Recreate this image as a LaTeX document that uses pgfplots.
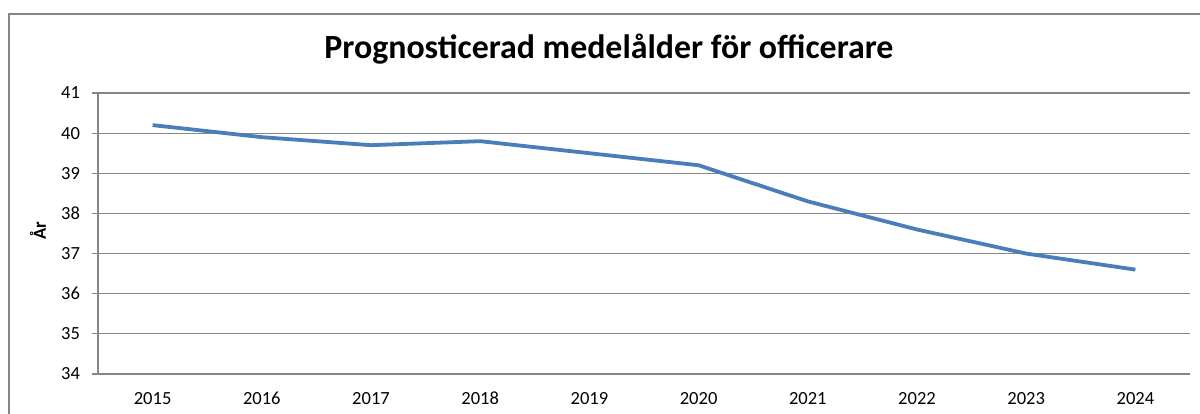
\documentclass[border=0pt]{standalone}
\usepackage{fontspec}
\setmainfont{Carlito}
\usepackage{pgfplots}
\pgfplotsset{compat=1.18}
\definecolor{linecol}{HTML}{4A7EBB}
\definecolor{gridc}{HTML}{868686}
\begin{document}
\begin{tikzpicture}
\draw[gridc, line width=0.8bp] (4.5bp,-10bp) -- (4.5bp,200bp) -- (620bp,200bp);
\node[anchor=base, font=\bfseries\fontsize{17}{20}\selectfont] at (304.5bp,177.5bp) {Prognosticerad medelålder för officerare};
\node[rotate=90, font=\bfseries\fontsize{9.3}{11}\selectfont] at (19bp,91.5bp) {År};
\begin{axis}[
  at={(49bp,20bp)}, anchor=south west,
  scale only axis, width=546bp, height=140.5bp,
  xmin=-0.5, xmax=9.5, ymin=34, ymax=41,
  ytick={34,35,...,41},
  xtick={0,...,9},
  xticklabels={2015,2016,2017,2018,2019,2020,2021,2022,2023,2024},
  major x tick style={draw=none},
  extra x ticks={-0.5,0.5,1.5,2.5,3.5,4.5,5.5,6.5,7.5,8.5,9.5},
  extra x tick labels={},
  extra x tick style={grid=none, major tick length=3bp, tick align=outside, tick style={draw=gridc, line width=0.6bp}},
  axis x line=bottom, axis y line=left,
  axis line style={draw=gridc, line width=0.6bp, -},
  ymajorgrids, grid style={draw=gridc, line width=0.6bp},
  major y tick style={draw=gridc, line width=0.6bp},
  tick align=outside, major tick length=3bp,
  tick label style={font=\fontsize{9.3}{11}\selectfont},
  /pgf/number format/assume math mode=true,
  yticklabel style={xshift=-2.5bp},
  xticklabel style={yshift=-2.5bp},
]
\addplot[linecol, line width=1.9bp, mark=none] coordinates {
(0,40.2) (1,39.9) (2,39.7) (3,39.8) (4,39.5) (5,39.2) (6,38.3) (7,37.6) (8,37.0) (9,36.6)
};
\end{axis}
\pgfresetboundingbox
\useasboundingbox (0,0) rectangle (600bp,207bp);
\end{tikzpicture}
\end{document}
